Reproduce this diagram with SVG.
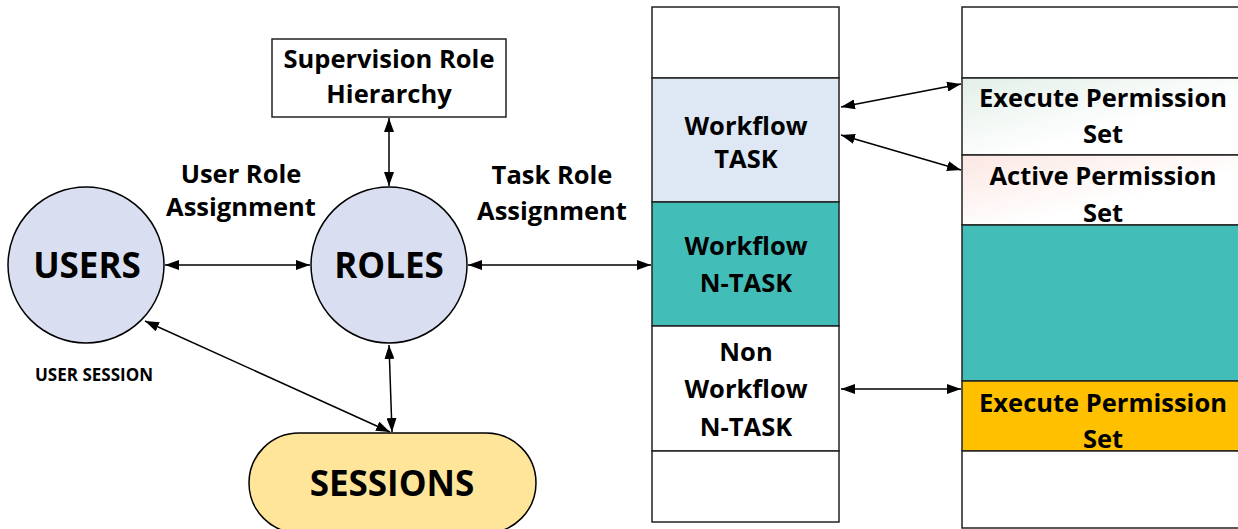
<svg xmlns="http://www.w3.org/2000/svg" width="1238" height="529" viewBox="0 0 1238 529">
<style>
  .t { font-family: "Open Sans", "Liberation Sans", sans-serif; font-weight: bold; fill: #000; text-anchor: middle; }
  .big { font-size: 35px; }
  .lbl { font-size: 25.5px; }
  .sm { font-size: 17px; }
  .ln { stroke: #000; stroke-width: 1.5; fill: none; marker-start: url(#ah); marker-end: url(#ah); }
  .box { stroke: #222; stroke-width: 1.5; }
</style>
<defs>
  <marker id="ah" viewBox="0 0 14 10" refX="14" refY="5" markerWidth="14" markerHeight="10" markerUnits="userSpaceOnUse" orient="auto-start-reverse">
    <path d="M0,0 L14,5 L0,10 Z" fill="#000"/>
  </marker>
  <linearGradient id="gGreen" x1="0" y1="0" x2="1" y2="1">
    <stop offset="0" stop-color="#e3efe8"/>
    <stop offset="0.6" stop-color="#ffffff"/>
  </linearGradient>
  <linearGradient id="gPink" x1="0" y1="0" x2="1" y2="1">
    <stop offset="0" stop-color="#fbe7e3"/>
    <stop offset="0.6" stop-color="#ffffff"/>
  </linearGradient>
</defs>

<g id="connectors">
  <line class="ln" x1="165" y1="265" x2="310" y2="265"/>
  <line class="ln" x1="389" y1="118" x2="389" y2="186"/>
  <line class="ln" x1="468" y1="265" x2="651" y2="265"/>
  <line class="ln" x1="389" y1="345" x2="392" y2="432"/>
  <line class="ln" x1="145" y1="321" x2="390" y2="432"/>
  <line class="ln" x1="841" y1="107" x2="961" y2="84"/>
  <line class="ln" x1="841" y1="135" x2="961" y2="170"/>
  <line class="ln" x1="841" y1="389" x2="961" y2="389"/>
</g>

<g id="users">
  <circle cx="86" cy="265" r="78" fill="#d9dff1" stroke="#000" stroke-width="1.5"/>
  <text class="t big" x="87" y="278">USERS</text>
</g>

<g id="roles">
  <circle cx="389" cy="265" r="78" fill="#d9dff1" stroke="#000" stroke-width="1.5"/>
  <text class="t big" x="389" y="278">ROLES</text>
</g>

<g id="supervision">
  <rect x="272" y="39" width="234" height="78" fill="#fff" class="box"/>
  <text class="t lbl" x="389" y="68">Supervision Role</text>
  <text class="t lbl" x="389" y="103">Hierarchy</text>
</g>

<g id="label-user-role">
  <text class="t lbl" x="241" y="183">User Role</text>
  <text class="t lbl" x="241" y="216">Assignment</text>
</g>

<g id="label-task-role">
  <text class="t lbl" x="552" y="184">Task Role</text>
  <text class="t lbl" x="552" y="220">Assignment</text>
</g>

<g id="label-user-session">
  <text class="t sm" x="94" y="381">USER SESSION</text>
</g>

<g id="sessions">
  <rect x="249" y="433" width="287" height="100" rx="50" ry="50" fill="#fee59a" stroke="#000" stroke-width="1.5"/>
  <text class="t big" x="392" y="496">SESSIONS</text>
</g>

<g id="task-column">
  <rect x="652" y="7" width="187" height="71" fill="#fff" class="box"/>
  <rect x="652" y="78" width="187" height="124" fill="#dee8f5" class="box"/>
  <rect x="652" y="202" width="187" height="124" fill="#43bdb7" class="box"/>
  <rect x="652" y="326" width="187" height="125" fill="#fff" class="box"/>
  <rect x="652" y="451" width="187" height="71" fill="#fff" class="box"/>
  <text class="t lbl" x="746" y="135">Workflow</text>
  <text class="t lbl" x="746" y="168">TASK</text>
  <text class="t lbl" x="746" y="255">Workflow</text>
  <text class="t lbl" x="746" y="292">N-TASK</text>
  <text class="t lbl" x="746" y="361">Non</text>
  <text class="t lbl" x="746" y="398">Workflow</text>
  <text class="t lbl" x="746" y="436">N-TASK</text>
</g>

<g id="permission-column">
  <rect x="962" y="7" width="290" height="71" fill="#fff" class="box"/>
  <rect x="962" y="78" width="290" height="77" fill="url(#gGreen)" class="box"/>
  <rect x="962" y="155" width="290" height="70" fill="url(#gPink)" class="box"/>
  <rect x="962" y="225" width="290" height="156" fill="#43bdb7" class="box"/>
  <rect x="962" y="381" width="290" height="70" fill="#ffc000" class="box"/>
  <rect x="962" y="451" width="290" height="77" fill="#fff" class="box"/>
  <text class="t lbl" x="1103" y="107">Execute Permission</text>
  <text class="t lbl" x="1103" y="143">Set</text>
  <text class="t lbl" x="1103" y="185">Active Permission</text>
  <text class="t lbl" x="1103" y="222">Set</text>
  <text class="t lbl" x="1103" y="412">Execute Permission</text>
  <text class="t lbl" x="1103" y="448">Set</text>
</g>
</svg>
